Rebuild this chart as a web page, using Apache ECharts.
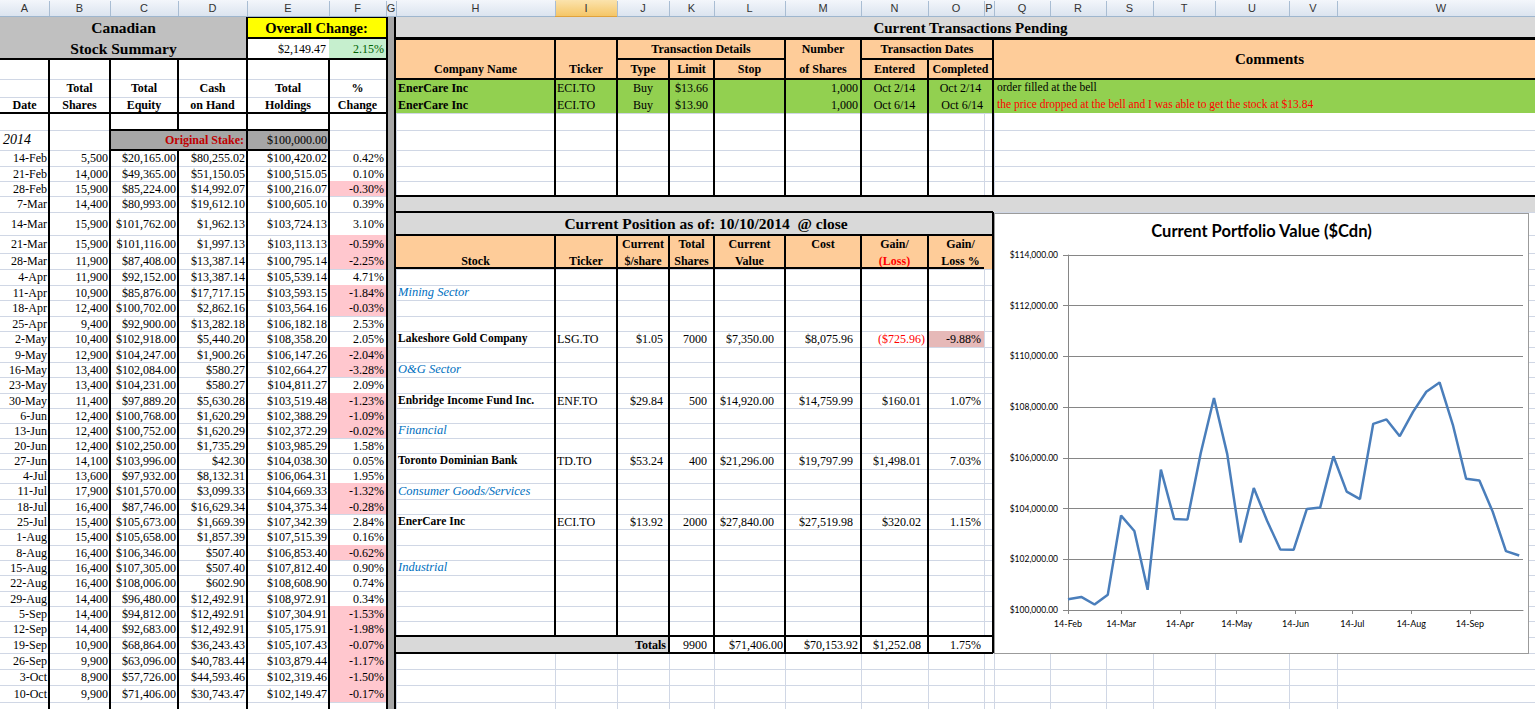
<!DOCTYPE html>
<html><head><meta charset="utf-8"><title>Canadian Stock Summary</title>
<script src="https://cdn.jsdelivr.net/npm/echarts@6.0.0/dist/echarts.min.js"></script>
<style>
html,body{margin:0;padding:0;background:#fff;}
body{width:1535px;height:709px;overflow:hidden;position:relative;font-family:"Liberation Serif","Times New Roman",serif;}
#sheet{position:absolute;left:0;top:0;width:1535px;height:709px;}
.t{position:absolute;box-sizing:border-box;display:flex;align-items:center;white-space:pre;line-height:1;color:#000;}
#chartBox{position:absolute;left:994px;top:213px;width:535px;height:441px;background:#fff;border:1px solid #9b9b9b;box-sizing:border-box;}
#chart{position:absolute;left:0;top:0;width:533px;height:439px;}
</style></head>
<body>
<div id="sheet"></div>
<div id="chartBox"><div id="chart"></div></div>
<script>
// ---------------- DATA ----------------
const MON=['Jan','Feb','Mar','Apr','May','Jun','Jul','Aug','Sep','Oct','Nov','Dec'];
const weekDates=['2014-02-14','2014-02-21','2014-02-28','2014-03-07','2014-03-14','2014-03-21','2014-03-28',
 '2014-04-04','2014-04-11','2014-04-18','2014-04-25','2014-05-02','2014-05-09','2014-05-16','2014-05-23','2014-05-30',
 '2014-06-06','2014-06-13','2014-06-20','2014-06-27','2014-07-04','2014-07-11','2014-07-18','2014-07-25',
 '2014-08-01','2014-08-08','2014-08-15','2014-08-22','2014-08-29','2014-09-05','2014-09-12','2014-09-19','2014-09-26',
 '2014-10-03','2014-10-10'];
const totalShares=[5500,14000,15900,14400,15900,15900,11900,11900,10900,12400,9400,10400,12900,13400,13400,11400,12400,12400,12400,14100,13600,17900,16400,15400,15400,16400,16400,16400,14400,14400,14400,10900,9900,8900,9900];
const totalEquity=[20165.00,49365.00,85224.00,80993.00,101762.00,101116.00,87408.00,92152.00,85876.00,100702.00,92900.00,102918.00,104247.00,102084.00,104231.00,97889.20,100768.00,100752.00,102250.00,103996.00,97932.00,101570.00,87746.00,105673.00,105658.00,106346.00,107305.00,108006.00,96480.00,94812.00,92683.00,68864.00,63096.00,57726.00,71406.00];
const cashOnHand=[80255.02,51150.05,14992.07,19612.10,1962.13,1997.13,13387.14,13387.14,17717.15,2862.16,13282.18,5440.20,1900.26,580.27,580.27,5630.28,1620.29,1620.29,1735.29,42.30,8132.31,3099.33,16629.34,1669.39,1857.39,507.40,507.40,602.90,12492.91,12492.91,12492.91,36243.43,40783.44,44593.46,30743.47];
const totalHoldings=[100420.02,100515.05,100216.07,100605.10,103724.13,103113.13,100795.14,105539.14,103593.15,103564.16,106182.18,108358.20,106147.26,102664.27,104811.27,103519.48,102388.29,102372.29,103985.29,104038.30,106064.31,104669.33,104375.34,107342.39,107515.39,106853.40,107812.40,108608.90,108972.91,107304.91,105175.91,105107.43,103879.44,102319.46,102149.47];
const pctChange=[0.42,0.10,-0.30,0.39,3.10,-0.59,-2.25,4.71,-1.84,-0.03,2.53,2.05,-2.04,-3.28,2.09,-1.23,-1.09,-0.02,1.58,0.05,1.95,-1.32,-0.28,2.84,0.16,-0.62,0.90,0.74,0.34,-1.53,-1.98,-0.07,-1.17,-1.50,-0.17];
const originalStake=100000;
const overallChange=2149.47, overallPct=2.15;

const txCompany=['EnerCare Inc','EnerCare Inc'];
const txTicker=['ECI.TO','ECI.TO'];
const txType=['Buy','Buy'];
const txLimit=[13.66,13.90];
const txShares=[1000,1000];
const txEntered=['Oct 2/14','Oct 6/14'];
const txCompleted=['Oct 2/14','Oct 6/14'];
const txComment=['order filled at the bell','the price dropped at the bell and I was able to get the stock at $13.84'];

const sectorNames=['Mining Sector','O&G Sector','Financial','Consumer Goods/Services','Industrial'];
const stockNames=['Lakeshore Gold Company','Enbridge Income Fund Inc.','Toronto Dominian Bank','EnerCare Inc'];
const stockTickers=['LSG.TO','ENF.TO','TD.TO','ECI.TO'];
const stockPrice=[1.05,29.84,53.24,13.92];
const stockShares=[7000,500,400,2000];
const stockValue=[7350.00,14920.00,21296.00,27840.00];
const stockCost=[8075.96,14759.99,19797.99,27519.98];
const stockGain=[-725.96,160.01,1498.01,320.02];
const stockGainPct=[-9.88,1.07,7.03,1.15];
const totalsRow={shares:9900,value:71406.00,cost:70153.92,gain:1252.08,pct:1.75};

const xAxisStart='2014-02-14', xAxisEnd='2014-10-12';
const xTickDates=['2014-02-14','2014-03-14','2014-04-14','2014-05-14','2014-06-14','2014-07-14','2014-08-14','2014-09-14'];
const yAxisMin=100000, yAxisMax=114000, yAxisStep=2000;

// ---------------- LAYOUT ----------------
const X={A:0,B:49,C:110,D:178,E:247,F:329,G:386,H:396,I:555,J:617,K:669,L:714,M:785,N:861,O:928,P:984,Q:994,R:1050,S:1106,T:1153,U:1215,V:1289,W:1337,Z:1545};
const COLS=['A','B','C','D','E','F','G','H','I','J','K','L','M','N','O','P','Q','R','S','T','U','V','W'];
const RB=[17,39,59,79,97,113,130,150,166,181,196,212,235,253,269,285,300,316,331,347,362,377,393,408,423,438,453,469,483,499,514,529,545,560,575,591,606,621,637,653,669,685,702,718];
const top_=n=>RB[n-1], bot=n=>RB[n];
const sectorRow=[16,21,25,29,34], stockRow=[19,23,27,31];

const sheet=document.getElementById('sheet');
function rect(x1,y1,x2,y2,bg,extra){const d=document.createElement('div');
 d.style.cssText='position:absolute;left:'+x1+'px;top:'+y1+'px;width:'+(x2-x1)+'px;height:'+(y2-y1)+'px;background:'+bg+';'+(extra||'');
 sheet.appendChild(d);return d;}
function hl(x1,x2,y,w,c){rect(x1,y-w/2,x2,y+w/2,c||'#000');}
function vl(x,y1,y2,w,c){rect(x-w/2,y1,x+w/2,y2,c||'#000');}
function txt(x1,y1,x2,y2,s,o){o=o||{};const d=document.createElement('div');d.className='t';
 d.style.left=x1+'px';d.style.top=y1+'px';d.style.width=(x2-x1)+'px';d.style.height=(y2-y1)+'px';
 d.style.justifyContent=o.a==='r'?'flex-end':(o.a==='c'?'center':'flex-start');
 const p=o.p==null?2:o.p; if(o.a==='r')d.style.paddingRight=p+'px'; else if(o.a!=='c')d.style.paddingLeft=p+'px';
 d.style.fontSize=(o.s||12)+'px'; if(o.b)d.style.fontWeight='bold'; if(o.i)d.style.fontStyle='italic';
 if(o.c)d.style.color=o.c; if(o.f)d.style.fontFamily=o.f;
 d.textContent=s; sheet.appendChild(d);return d;}
const money=v=>'$'+Number(v).toLocaleString('en-US',{minimumFractionDigits:2,maximumFractionDigits:2});
const money2=v=>v<0?'('+money(-v)+')':money(v);
const pct=v=>v.toFixed(2)+'%';
function dateParts(s){const p=s.split('-').map(Number);return new Date(p[0],p[1]-1,p[2]);}
const dLabel=d=>d.getDate()+'-'+MON[d.getMonth()];
const t0=dateParts(xAxisStart);
const dayOf=s=>Math.round((dateParts(s)-t0)/86400000);
const dateFromDay=n=>new Date(t0.getFullYear(),t0.getMonth(),t0.getDate()+n);

// gridlines
const GRID='#d0d7e5';
for(let i=1;i<RB.length;i++) hl(0,1535,RB[i],1,GRID);
COLS.forEach(c=>{ if(c!=='A') vl(X[c],17,709,1,GRID); });

// ---- left fills
rect(0,17,247,59,'#c0c0c0');
rect(247,17,386,39,'#ffff00');
rect(247,39,329,59,'#ffffff');
rect(329,39,386,59,'#c6efce');
rect(110,130,329,150,'#a6a6a6');
pctChange.forEach((v,i)=>{ if(v<0) rect(329,top_(8+i),386,bot(8+i),'#ffc7ce'); });
rect(386,17,396,709,'#a6a6a6');

// ---- right fills
rect(396,17,1535,39,'#d9d9d9');
rect(396,39,1535,79,'#fecc99');
rect(396,79,1535,113,'#92d050');
rect(X.Q+1,113,1535,196,'#ffffff');
[130,150,166,181].forEach(y=>hl(X.Q,1535,y,1,GRID));
rect(396,196,1535,212,'#d9d9d9');
rect(396,212,993,235,'#d9d9d9');
rect(396,235,993,269,'#fecc99');
rect(X.O,top_(stockRow[0]),X.P,bot(stockRow[0]),'#e6b9b8');
rect(396,636,669,653,'#d9d9d9');
rect(669,637,993,653,'#ffffff');

// ---- column header bar
rect(0,0,1535,17,'linear-gradient(#f3f6fb,#dbe4ef)','border-bottom:1px solid #9eb6ce;box-sizing:border-box;');
rect(X.I,0,X.J,17,'linear-gradient(#fbe3ad,#f5c667)','border-bottom:1px solid #e0a23c;box-sizing:border-box;');
COLS.forEach((c,i)=>{const x1=X[c],x2=i<COLS.length-1?X[COLS[i+1]]:X.Z;
 if(i>0) vl(x1,1,16,1,'#a9bdd3');
 txt(x1,0,x2,17,c,{a:'c',s:11,f:'"Liberation Sans",Arial,sans-serif',c:'#333'});});

// ---- left texts
txt(0,17,247,39,'Canadian',{a:'c',b:1,s:15.5});
txt(0,39,247,59,'Stock Summary',{a:'c',b:1,s:15.5});
txt(247,17,386,39,'Overall Change:',{a:'c',b:1,s:14.5});
txt(247,39,329,59,money(overallChange),{a:'r',p:3});
txt(329,39,386,59,pct(overallPct),{a:'r',p:2,c:'#006100'});
const hdr4=[['B','Total'],['C','Total'],['D','Cash'],['E','Total'],['F','%']];
const hdr5=[['A','Date'],['B','Shares'],['C','Equity'],['D','on Hand'],['E','Holdings'],['F','Change']];
const nextCol=c=>X[COLS[COLS.indexOf(c)+1]];
hdr4.forEach(h=>txt(X[h[0]],79,nextCol(h[0]),97,h[1],{a:'c',b:1,s:12}));
hdr5.forEach(h=>txt(X[h[0]],97,nextCol(h[0]),113,h[1],{a:'c',b:1,s:12}));
txt(0,130,49,150,'2014',{i:1,s:14,p:3});
txt(110,130,247,150,'Original Stake:',{a:'r',b:1,s:12,c:'#c00000',p:3});
txt(247,130,329,150,money(originalStake),{a:'r',p:2});
weekDates.forEach((s,i)=>{const r=8+i,y1=top_(r),y2=bot(r);
 txt(X.A,y1,X.B,y2,dLabel(dateParts(s)),{a:'r',p:2});
 txt(X.B,y1,X.C,y2,totalShares[i].toLocaleString('en-US'),{a:'r',p:2});
 txt(X.C,y1,X.D,y2,money(totalEquity[i]),{a:'r',p:2});
 txt(X.D,y1,X.E,y2,money(cashOnHand[i]),{a:'r',p:2});
 txt(X.E,y1,X.F,y2,money(totalHoldings[i]),{a:'r',p:2});
 txt(X.F,y1,X.G,y2,pct(pctChange[i]),{a:'r',p:2});
});

// ---- transactions texts
txt(396,17,1545,39,'Current Transactions Pending',{a:'c',b:1,s:15});
txt(X.H,59,X.I,79,'Company Name',{a:'c',b:1,s:12});
txt(X.I,59,X.J,79,'Ticker',{a:'c',b:1,s:12});
txt(X.J,39,X.M,59,'Transaction Details',{a:'c',b:1,s:12});
txt(X.J,59,X.K,79,'Type',{a:'c',b:1,s:12});
txt(X.K,59,X.L,79,'Limit',{a:'c',b:1,s:12});
txt(X.L,59,X.M,79,'Stop',{a:'c',b:1,s:12});
txt(X.M,39,X.N,59,'Number',{a:'c',b:1,s:12});
txt(X.M,59,X.N,79,'of Shares',{a:'c',b:1,s:12});
txt(X.N,39,993,59,'Transaction Dates',{a:'c',b:1,s:12});
txt(X.N,59,X.O,79,'Entered',{a:'c',b:1,s:12});
txt(X.O,59,993,79,'Completed',{a:'c',b:1,s:12});
txt(X.Q,39,X.Z,79,'Comments',{a:'c',b:1,s:15});
txCompany.forEach((c,i)=>{const r=4+i,y1=top_(r),y2=bot(r);
 txt(X.H,y1,X.I,y2,c,{b:1,s:12,p:2});
 txt(X.I,y1,X.J,y2,txTicker[i],{p:2});
 txt(X.J,y1,X.K,y2,txType[i],{a:'c'});
 txt(X.K,y1,X.L,y2,money(txLimit[i]),{a:'c'});
 txt(X.M,y1,X.N,y2,txShares[i].toLocaleString('en-US'),{a:'r',p:3});
 txt(X.N,y1,X.O,y2,txEntered[i],{a:'c'});
 txt(X.O,y1,993,y2,txCompleted[i],i===0?{a:'c'}:{a:'r',p:10});
 txt(X.Q,y1,1535,y2,txComment[i],{p:3,s:11.5,c:i===0?'#000':'#ff0000'});
});

// ---- current position texts
txt(396,212,1016,235,'Current Position as of: 10/10/2014  @ close',{a:'c',b:1,s:15.5});
const cph=[['H',2,'Stock'],['I',2,'Ticker'],['J',1,'Current'],['J',2,'$/share'],['K',1,'Total'],['K',2,'Shares'],
 ['L',1,'Current'],['L',2,'Value'],['M',1,'Cost'],['N',1,'Gain/'],['N',2,'(Loss)'],['O',1,'Gain/'],['O',2,'Loss %']];
cph.forEach(h=>{const x2=h[0]==='O'?993:nextCol(h[0]);const y1=h[1]===1?235:253,y2=h[1]===1?253:269;
 txt(X[h[0]],y1,x2,y2,h[2],{a:'c',b:1,s:12,c:h[2]==='(Loss)'?'#ff0000':'#000'});});
sectorNames.forEach((s,i)=>txt(X.H,top_(sectorRow[i]),X.I,bot(sectorRow[i]),s,{i:1,s:12.5,c:'#0070c0',p:2}));
stockNames.forEach((s,i)=>{const r=stockRow[i],y1=top_(r),y2=bot(r);
 txt(X.H,y1,X.I,y2,s,{b:1,s:11.5,p:2});
 txt(X.I,y1,X.J,y2,stockTickers[i],{p:2});
 txt(X.J,y1,X.K,y2,money(stockPrice[i]),{a:'r',p:6});
 txt(X.K,y1,X.L,y2,String(stockShares[i]),{a:'r',p:7});
 txt(X.L,y1,X.M,y2,money(stockValue[i]),{a:'r',p:11});
 txt(X.M,y1,X.N,y2,money(stockCost[i]),{a:'r',p:8});
 txt(X.N,y1,X.O,y2,money2(stockGain[i]),{a:'r',p:stockGain[i]<0?3:7,c:stockGain[i]<0?'#ff0000':'#000'});
 txt(X.O,y1,X.P,y2,pct(stockGainPct[i]),{a:'r',p:3});
});
txt(396,637,669,653,'Totals',{a:'r',b:1,s:12,p:3});
txt(X.K,637,X.L,653,String(totalsRow.shares),{a:'r',p:7});
txt(X.L,637,X.M,653,money(totalsRow.value),{a:'r',p:2});
txt(X.M,637,X.N,653,money(totalsRow.cost),{a:'r',p:3});
txt(X.N,637,X.O,653,money(totalsRow.gain),{a:'r',p:7});
txt(X.O,637,X.P,653,pct(totalsRow.pct),{a:'r',p:3});

// ---- borders (black)
hl(0,386,59,2); hl(0,386,113,2);
[49,110,247,329].forEach(x=>vl(x,59,709,2));
vl(178,59,130,2); vl(178,150,709,2);
hl(247,386,38,2); vl(247,17,59,2); hl(247,386,17.5,1.5);
hl(110,329,130,2.5); hl(110,329,150,2.5);
vl(386.5,17,709,2); vl(395,17,709,2);
hl(396,1535,38.5,2.5); hl(396,1535,79,2.5); hl(396,1535,196,2.5);
hl(X.J,X.M,59,1.5); hl(X.N,993,59,1.5);
[X.I,X.J,X.M,X.N,993].forEach(x=>vl(x,39,196,x===993?2.5:1.5));
[X.K,X.L,X.O].forEach(x=>vl(x,59,196,1.5));
hl(396,993,212,2.5); hl(396,993,235,2); hl(396,X.P,268,2.5);
[X.I,X.J,X.K,X.L,X.M,X.N,X.O].forEach(x=>vl(x,235,636,1.5));
[X.K,X.L,X.M,X.N,X.O].forEach(x=>vl(x,636,653,1.5));
vl(993,212,653,2.5);
hl(396,993,636,2.5); hl(396,993,653,2.5);

// ---------------- CHART ----------------
const chart=echarts.init(document.getElementById('chart'),null,{renderer:'svg'});
const seriesData=weekDates.map((s,i)=>[dayOf(s),totalHoldings[i]]);
const monthTicks=xTickDates.map(dayOf);
const AX='#868686', FONT='Lato, "Open Sans", sans-serif';
chart.setOption({
 animation:false,
 title:{text:'Current Portfolio Value ($Cdn)',left:'center',top:3,
   textStyle:{fontFamily:FONT,fontWeight:'bold',fontSize:16.5,color:'#000'}},
 grid:{left:73,right:5,top:41,bottom:43,containLabel:false},
 xAxis:{type:'value',min:0,max:dayOf(xAxisEnd),
   axisLine:{show:true,onZero:false,lineStyle:{color:AX,width:1}},
   axisTick:{show:true,length:4,lineStyle:{color:AX},customValues:monthTicks},
   axisLabel:{customValues:monthTicks,formatter:v=>dLabel(dateFromDay(v)),fontSize:9,color:'#000',fontFamily:FONT,margin:9},
   splitLine:{show:false}},
 yAxis:{type:'value',min:yAxisMin,max:yAxisMax,interval:yAxisStep,
   axisLine:{show:true,lineStyle:{color:AX,width:1}},
   axisTick:{show:true,length:5,lineStyle:{color:AX}},
   axisLabel:{formatter:v=>money(v),fontSize:8.5,color:'#000',fontFamily:FONT,margin:10},
   splitLine:{show:true,lineStyle:{color:AX,width:1}}},
 series:[{type:'line',data:seriesData,symbol:'none',showSymbol:false,smooth:false,
   lineStyle:{color:'#4a7ebb',width:2.5},itemStyle:{color:'#4a7ebb'}}]
});
</script>
</body></html>
